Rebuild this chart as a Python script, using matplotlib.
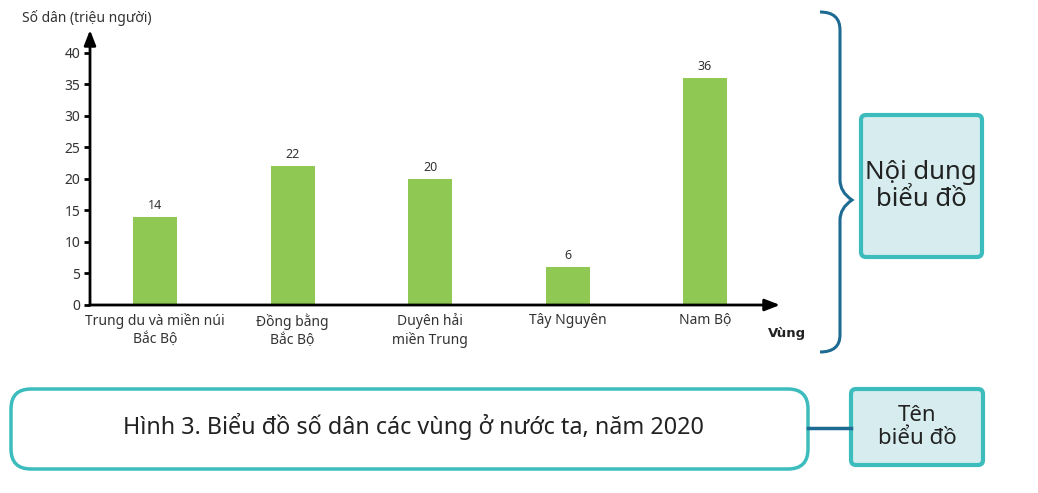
import numpy as np
import matplotlib
matplotlib.use('Agg')
import matplotlib.pyplot as plt
from matplotlib.patches import FancyBboxPatch, PathPatch
from matplotlib.path import Path

plt.rcParams['font.family'] = ['Noto Sans', 'DejaVu Sans']

# data
regions = ['Trung du và miền núi\nBắc Bộ', 'Đồng bằng\nBắc Bộ', 'Duyên hải\nmiền Trung',
           'Tây Nguyên', 'Nam Bộ']
population = [14, 22, 20, 6, 36]
yticks = [0, 5, 10, 15, 20, 25, 30, 35, 40]

W, H = 1038, 493
fig = plt.figure(figsize=(W / 100, H / 100), dpi=100)

# chart area (pixel based placement)
ax = fig.add_axes([90 / W, 188 / H, 690 / W, 275 / H])
x = np.arange(len(regions))
ax.bar(x, population, width=0.32, color='#8fc852', zorder=2)
for xi, v in zip(x, population):
    ax.text(xi, v + 0.8, str(v), ha='center', va='bottom', fontsize=9, color='#333333')

ax.set_xlim(-0.473, 4.545)
ax.set_ylim(0, 43.65)
ax.set_yticks(yticks)
ax.set_xticks(x)
ax.set_xticklabels(regions, fontsize=10, color='#333333', linespacing=1.25)
ax.tick_params(axis='y', length=4, width=2, labelsize=10, labelcolor='#333333', pad=3)
ax.tick_params(axis='x', length=0, pad=6)
for s in ax.spines.values():
    s.set_visible(False)
ax.annotate('', xy=(1, 0), xytext=(0, 0), xycoords='axes fraction',
            arrowprops=dict(arrowstyle='-|>,head_length=0.9,head_width=0.35', lw=2, color='black',
                            shrinkA=0, shrinkB=0))
ax.annotate('', xy=(0, 1), xytext=(0, 0), xycoords='axes fraction',
            arrowprops=dict(arrowstyle='-|>,head_length=0.9,head_width=0.35', lw=2, color='black',
                            shrinkA=0, shrinkB=0))

# overlay in pixel coords for the diagram decorations
ov = fig.add_axes([0, 0, 1, 1], zorder=-1)
ov.set_xlim(0, W)
ov.set_ylim(H, 0)
ov.axis('off')

ov.text(22, 18, 'Số dân (triệu người)', fontsize=10, color='#333333', va='center', ha='left')
ov.text(787, 333, 'Vùng', fontsize=9.5, fontweight='bold', family='DejaVu Sans',
        color='#222222', va='center', ha='center')

# curly brace
verts = [(820, 12), (840, 12), (840, 30),
         (840, 180), (840, 192), (852, 200),
         (840, 208), (840, 220), (840, 335),
         (840, 352), (820, 352)]
codes = [Path.MOVETO, Path.CURVE3, Path.CURVE3,
         Path.LINETO, Path.CURVE3, Path.CURVE3,
         Path.CURVE3, Path.CURVE3, Path.LINETO,
         Path.CURVE3, Path.CURVE3]
ov.add_patch(PathPatch(Path(verts, codes), fill=False, edgecolor='#1d6a92', lw=2.2))

teal = '#3cbcbc'
light = '#d6ecee'
ov.add_patch(FancyBboxPatch((861, 115), 121, 142, boxstyle='round,pad=0,rounding_size=5',
                            facecolor=light, edgecolor=teal, lw=3))
ov.text(921, 186, 'Nội dung\nbiểu đồ', fontsize=18.5, ha='center', va='center',
        color='#222222', linespacing=1.15)

ov.add_patch(FancyBboxPatch((11, 389), 797, 80, boxstyle='round,pad=0,rounding_size=20',
                            facecolor='white', edgecolor=teal, lw=2.5))
ov.text(413, 427, 'Hình 3. Biểu đồ số dân các vùng ở nước ta, năm 2020', fontsize=16.8,
        ha='center', va='center', color='#222222')
ov.plot([808, 851], [428, 428], color='#1d6a92', lw=2.5)
ov.add_patch(FancyBboxPatch((851, 389), 132, 76, boxstyle='round,pad=0,rounding_size=5',
                            facecolor=light, edgecolor=teal, lw=3))
ov.text(917, 427, 'Tên\nbiểu đồ', fontsize=16, ha='center', va='center',
        color='#222222', linespacing=1.1)

fig.savefig('out.png', dpi=100, facecolor='white')
